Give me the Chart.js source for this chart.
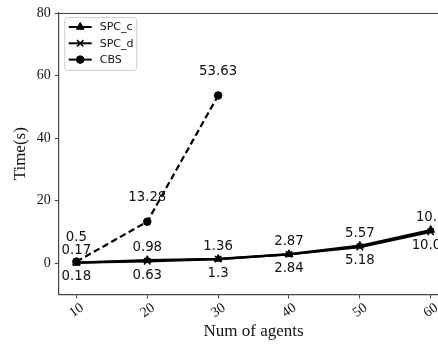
<!DOCTYPE html>
<html>
<head>
<meta charset="utf-8">
<script src="https://cdn.jsdelivr.net/npm/chart.js@4.4.0/dist/chart.umd.min.js"></script>
<style>
  html, body { margin: 0; padding: 0; overflow: hidden; background: #fff; }
  #wrap { width: 470px; height: 347px; }
</style>
</head>
<body>
<div id="wrap"><canvas id="chart"></canvas></div>
<script>
// data
const agents = [10, 20, 30, 40, 50, 60];
const spcC = [0.17, 0.98, 1.36, 2.87, 5.57, 10.6];
const spcD = [0.18, 0.63, 1.3, 2.84, 5.18, 10.04];
const cbs = [0.5, 13.28, 53.63];
const xTicks = [10, 20, 30, 40, 50, 60];
const yTicks = [0, 20, 40, 60, 80];

const ink = '#000';
const spine = '#444';
const serif = "'Liberation Serif', 'Times New Roman', serif";
const sans = "'DejaVu Sans', sans-serif";

const toPoints = vals => vals.map((v, i) => ({ x: agents[i], y: v }));

// value labels next to each point
const valueLabels = {
  id: 'valueLabels',
  afterDatasetsDraw(chart) {
    const ctx = chart.ctx;
    ctx.save();
    ctx.font = '13.3px ' + sans;
    ctx.fillStyle = '#111';
    ctx.textAlign = 'center';
    ctx.textBaseline = 'middle';
    chart.data.datasets.forEach((ds, di) => {
      const meta = chart.getDatasetMeta(di);
      meta.data.forEach((pt, i) => {
        ctx.fillText(String(ds.data[i].y), pt.x, pt.y + ds.labelDy);
      });
    });
    ctx.restore();
  }
};

// top/right spines + legend box inside the plot
const frameAndLegend = {
  id: 'frameAndLegend',
  afterDraw(chart) {
    const ctx = chart.ctx;
    const a = chart.chartArea;
    ctx.save();
    ctx.strokeStyle = spine;
    ctx.lineWidth = 1.2;
    ctx.beginPath();
    ctx.moveTo(a.left, a.top + 0.5);
    ctx.lineTo(a.right, a.top + 0.5);
    ctx.lineTo(a.right, a.bottom);
    ctx.stroke();

    // legend
    const bx = a.left + 6, by = a.top + 4.5, bw = 72, bh = 53;
    ctx.fillStyle = 'rgba(255,255,255,0.8)';
    ctx.strokeStyle = '#d0d0d0';
    ctx.lineWidth = 1;
    ctx.beginPath();
    ctx.roundRect(bx, by, bw, bh, 3);
    ctx.fill();
    ctx.stroke();

    ctx.font = '11px ' + sans;
    ctx.textBaseline = 'middle';
    ctx.textAlign = 'left';
    chart.data.datasets.forEach((ds, i) => {
      const y = by + 9.5 + i * 16.3;
      ctx.strokeStyle = ink;
      ctx.fillStyle = ink;
      ctx.lineWidth = 2;
      ctx.setLineDash([]);
      ctx.beginPath();
      ctx.moveTo(bx + 4, y);
      ctx.lineTo(bx + 27, y);
      ctx.stroke();
      ctx.lineWidth = ds.pointBorderWidth;
      Chart.helpers.drawPoint(ctx, {
        pointStyle: ds.pointStyle,
        radius: ds.pointRadius,
        borderWidth: ds.pointBorderWidth,
        rotation: 0
      }, bx + 15.5, y);
      ctx.fillStyle = '#111';
      ctx.fillText(ds.label, bx + 35, y + 0.5);
    });
    ctx.restore();
  }
};

new Chart(document.getElementById('chart'), {
  type: 'line',
  data: {
    datasets: [
      {
        label: 'SPC_c',
        data: toPoints(spcC),
        borderColor: ink,
        backgroundColor: ink,
        borderWidth: 2.4,
        pointStyle: 'triangle',
        pointRadius: 4.5,
        pointBorderWidth: 1,
        labelDy: -12.5
      },
      {
        label: 'SPC_d',
        data: toPoints(spcD),
        borderColor: ink,
        backgroundColor: ink,
        borderWidth: 2.4,
        pointStyle: 'crossRot',
        pointRadius: 4.5,
        pointBorderWidth: 1.5,
        labelDy: 14
      },
      {
        label: 'CBS',
        data: toPoints(cbs),
        borderColor: ink,
        backgroundColor: ink,
        borderWidth: 2.2,
        borderDash: [6.5, 3.5],
        pointStyle: 'circle',
        pointRadius: 3.8,
        pointBorderWidth: 1,
        labelDy: -24
      }
    ]
  },
  options: {
    responsive: true,
    maintainAspectRatio: false,
    animation: false,
    layout: { padding: { top: 13, right: 21.6, left: 0, bottom: 0 } },
    elements: { line: { tension: 0 } },
    plugins: {
      legend: { display: false },
      tooltip: { enabled: false }
    },
    scales: {
      x: {
        type: 'linear',
        min: 7.5,
        max: 62.5,
        afterBuildTicks: s => { s.ticks = xTicks.map(v => ({ value: v })); },
        afterFit: s => { s.height = 52.5; },
        border: { color: spine, width: 1.2 },
        grid: { drawOnChartArea: false, drawTicks: true, tickLength: 4, color: spine },
        ticks: {
          color: '#111',
          font: { family: serif, size: 14 },
          minRotation: 35,
          maxRotation: 35,
          padding: 1,
          labelOffset: 6
        },
        title: {
          display: true,
          text: 'Num of agents',
          color: '#111',
          font: { family: serif, size: 17 },
          padding: { top: 0, bottom: 5 }
        }
      },
      y: {
        min: -10,
        max: 80,
        afterBuildTicks: s => { s.ticks = yTicks.map(v => ({ value: v })); },
        afterFit: s => { s.width = 58.7; },
        border: { color: spine, width: 1.2 },
        grid: { drawOnChartArea: false, drawTicks: true, tickLength: 4, color: spine },
        ticks: {
          color: '#111',
          font: { family: serif, size: 14 },
          padding: 4
        },
        title: {
          display: true,
          text: 'Time(s)',
          color: '#111',
          font: { family: serif, size: 17 },
          padding: { top: 10, bottom: 0 }
        }
      }
    }
  },
  plugins: [valueLabels, frameAndLegend]
});
</script>
</body>
</html>
